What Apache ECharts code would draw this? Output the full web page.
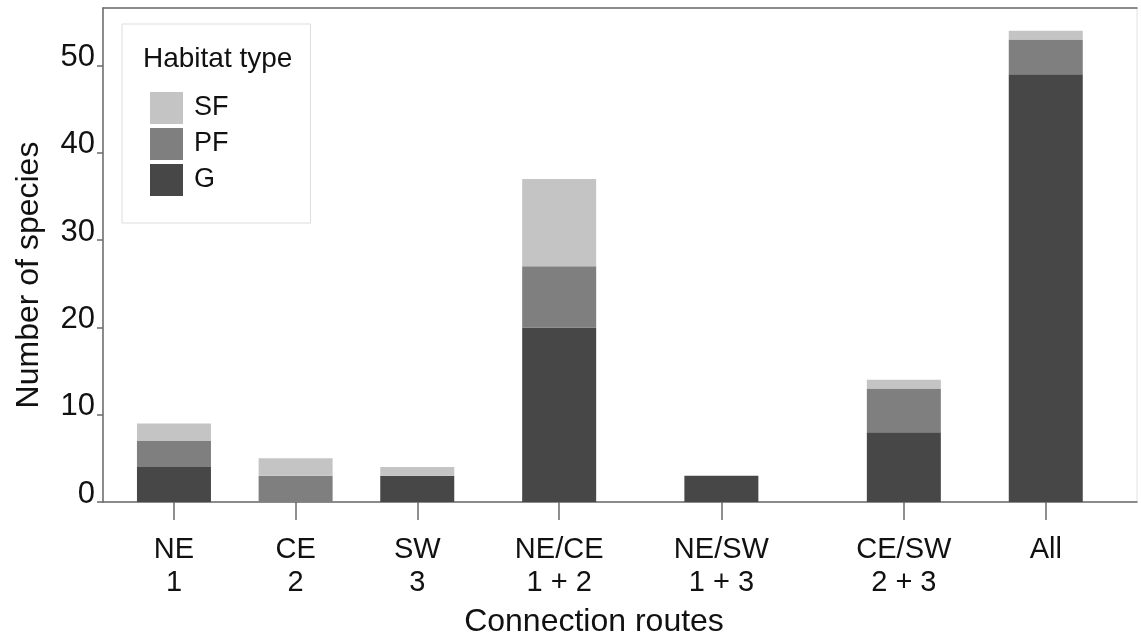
<!DOCTYPE html>
<html>
<head>
<meta charset="utf-8">
<script src="https://cdn.jsdelivr.net/npm/echarts@6/dist/echarts.min.js"></script>
<style>
html,body{margin:0;padding:0;background:#fff;}
#chart{width:1141px;height:638px;}
</style>
</head>
<body>
<div id="chart"></div>
<script>
// ---- data ----
const categories = ['NE\n1', 'CE\n2', 'SW\n3', 'NE/CE\n1 + 2', 'NE/SW\n1 + 3', 'CE/SW\n2 + 3', 'All'];
const seriesNames = ['G', 'PF', 'SF'];
const valuesG  = [4, 0, 3, 20, 3, 8, 49];
const valuesPF = [3, 3, 0, 7, 0, 5, 4];
const valuesSF = [2, 2, 1, 10, 0, 1, 1];
const yTicks = [0, 10, 20, 30, 40, 50];
const legendTitle = 'Habitat type';
const xTitle = 'Connection routes';
const yTitle = 'Number of species';

// ---- layout: the original places groups unevenly; use fine category slots ----
const slotCount = 51;
const slotOf = [3, 9, 15, 22, 30, 39, 46];

const slotLabels = new Array(slotCount).fill('');
categories.forEach((c, i) => { slotLabels[slotOf[i]] = c; });
function toSlots(vals) {
  const arr = new Array(slotCount).fill('-');
  vals.forEach((v, i) => { arr[slotOf[i]] = v; });
  return arr;
}
const isLabeled = (idx) => slotOf.indexOf(idx) >= 0;

const colors = { G: '#474747', PF: '#7f7f7f', SF: '#c4c4c4' };
const dataByName = { G: valuesG, PF: valuesPF, SF: valuesSF };
const FONT = 'Liberation Sans, Arial, sans-serif';
const axisColor = '#6a6a6a';

const chart = echarts.init(document.getElementById('chart'), null, { renderer: 'canvas' });
chart.setOption({
  animation: false,
  backgroundColor: '#fff',
  textStyle: { fontFamily: FONT },
  title: {
    text: legendTitle,
    left: 143, top: 45, padding: 0,
    textStyle: { fontSize: 28, fontWeight: 'normal', color: '#111', fontFamily: FONT }
  },
  legend: {
    data: ['SF', 'PF', 'G'],
    orient: 'vertical',
    left: 122, top: 24,
    padding: [68, 82, 27, 28],
    itemWidth: 33, itemHeight: 32, itemGap: 4,
    borderColor: '#dddddd', borderWidth: 1,
    icon: 'rect',
    selectedMode: false,
    textStyle: { fontSize: 27, color: '#111', fontFamily: FONT, padding: [0, 0, 0, 6] }
  },
  grid: {
    left: 103, right: 4, top: 8, bottom: 136,
    outerBoundsMode: 'none',
    containLabel: false,
    show: true, borderColor: '#e2e2e2', borderWidth: 1, backgroundColor: 'transparent'
  },
  xAxis: [{
    type: 'category',
    data: slotLabels,
    boundaryGap: true,
    name: xTitle,
    nameLocation: 'middle',
    nameGap: 104,
    nameTextStyle: { fontSize: 32, color: '#111', fontFamily: FONT, padding: [0, 52, 0, 0] },
    axisLine: { show: true, lineStyle: { color: axisColor, width: 1.5 } },
    axisTick: { show: true, alignWithLabel: true, length: 18, interval: (idx) => isLabeled(idx), lineStyle: { color: axisColor, width: 1.5 } },
    axisLabel: { interval: (idx) => isLabeled(idx), fontSize: 29, color: '#111', margin: 31, lineHeight: 33, fontFamily: FONT },
    splitLine: { show: false }
  }, {
    type: 'category',
    position: 'top',
    data: slotLabels,
    axisLine: { show: true, lineStyle: { color: axisColor, width: 1.5 } },
    axisTick: { show: false },
    axisLabel: { show: false },
    splitLine: { show: false }
  }],
  yAxis: {
    type: 'value',
    min: 0, max: 56.6, interval: 10,
    name: yTitle,
    nameLocation: 'middle',
    nameGap: 58,
    nameTextStyle: { fontSize: 32, color: '#111', fontFamily: FONT, padding: [0, 40, 0, 0] },
    axisLine: { show: true, lineStyle: { color: axisColor, width: 1.5 } },
    axisTick: { show: true, length: 6, customValues: yTicks, lineStyle: { color: axisColor, width: 1.5 } },
    axisLabel: { customValues: yTicks, fontSize: 31, color: '#111', margin: 8, verticalAlign: 'bottom', lineHeight: 16, fontFamily: FONT },
    splitLine: { show: false }
  },
  series: seriesNames.map(n => ({
    name: n,
    type: 'bar',
    stack: 'total',
    barWidth: 74,
    data: toSlots(dataByName[n]),
    itemStyle: { color: colors[n] },
    emphasis: { disabled: true }
  }))
});
</script>
</body>
</html>
